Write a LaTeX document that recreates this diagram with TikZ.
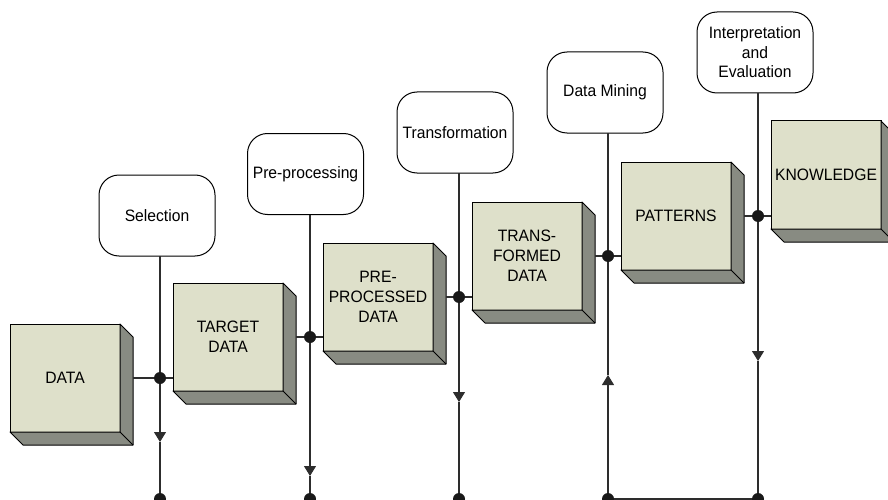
\documentclass[tikz,border=0pt]{standalone}
\usepackage{fontspec}
\setmainfont[FakeStretch=0.95]{Liberation Sans}
\usetikzlibrary{arrows.meta}
\definecolor{frontc}{RGB}{222,224,202}
\definecolor{sidec}{RGB}{136,139,130}
\definecolor{linec}{RGB}{45,45,45}
\tikzset{
  cube/.style={draw=black, line width=1pt, fill=frontc, minimum width=110pt, minimum height=108pt,
    inner sep=0pt, outer sep=0pt, align=center, anchor=north west,
    font=\fontsize{16.5}{20}\selectfont},
  stagebox/.style={draw=black, line width=1pt, fill=white, rounded corners=20pt,
    minimum width=116pt, minimum height=81pt, inner sep=0pt, outer sep=0pt, align=center,
    font=\fontsize{16.5}{19.5}\selectfont},
  conn/.style={draw=linec, line width=1.1pt},
  arr/.style={conn, -{Triangle[width=12pt,length=10pt]}},
  dotc/.style={circle, fill=black!90, minimum size=12pt, inner sep=0pt, outer sep=0pt},
}
\newcommand\mycube[4]{%
  \node[cube] (#1) at (#2,#3) {#4};
  \filldraw[fill=sidec, draw=black, line width=1pt, line join=round]
    (#1.north east) -- ([shift={(13,13)}]#1.north east) -- ([shift={(13,13)}]#1.south east)
    -- ([shift={(13,13)}]#1.south west) -- (#1.south west) -- (#1.south east) -- cycle;
  \draw[line width=1pt] (#1.south east) -- ([shift={(13,13)}]#1.south east);
}
\begin{document}
\begin{tikzpicture}[x=1pt,y=-1pt]
\path[use as bounding box] (0,0) rectangle (888,500);
\clip (0,0) rectangle (888,500);

% data boxes
\mycube{b1}{10}{324}{DATA}
\mycube{b2}{173}{283}{TARGET\\DATA}
\mycube{b3}{323}{243}{PRE-\\PROCESSED\\DATA}
\mycube{b4}{472}{202}{TRANS-\\FORMED\\DATA}
\mycube{b5}{621}{162}{PATTERNS}
\mycube{b6}{771}{121}{KNOWLEDGE}

% stage labels
\node[stagebox] (l1) at (157,215.5) {Selection};
\node[stagebox] (l2) at (305.5,174) {Pre-processing};
\node[stagebox] (l3) at (455,132.5) {Transformation};
\node[stagebox] (l4) at (605,92.5) {Data Mining};
\node[stagebox] (l5) at (755,52.5) {Interpretation\\and\\Evaluation};

% junction points
\coordinate (d1) at (160,378);
\coordinate (d2) at (310,337);
\coordinate (d3) at (459,297);
\coordinate (d4) at (608,256);
\coordinate (d5) at (758,216);

% arrow tips
\coordinate (a1) at (160,442);
\coordinate (a2) at (310,476);
\coordinate (a3) at (459,402);
\coordinate (a4) at (608,375);
\coordinate (a5) at (758,361);

% bottom ends
\coordinate (e1) at (160,499);
\coordinate (e2) at (310,499);
\coordinate (e3) at (459,499);
\coordinate (e4) at (608,499);
\coordinate (e5) at (758,499);

% vertical connectors
\foreach \i in {1,2,3,5}{
  \draw[conn] (d\i |- l\i.south) -- (d\i);
  \draw[arr] (d\i) -- (a\i);
  \draw[conn] (a\i) -- (e\i);
}
\draw[conn] (d4 |- l4.south) -- (d4);
\draw[arr] (e4) -- (a4);
\draw[conn] (a4) -- (d4);
\draw[conn] (e4) -- (e5);

% horizontal connectors
\draw[conn] ([xshift=13pt]b1.east |- d1) -- (d1) -- (b2.west |- d1);
\draw[conn] ([xshift=13pt]b2.east |- d2) -- (d2) -- (b3.west |- d2);
\draw[conn] ([xshift=13pt]b3.east |- d3) -- (d3) -- (b4.west |- d3);
\draw[conn] ([xshift=13pt]b4.east |- d4) -- (d4) -- (b5.west |- d4);
\draw[conn] ([xshift=13pt]b5.east |- d5) -- (d5) -- (b6.west |- d5);

% dots
\foreach \i in {1,...,5}{
  \node[dotc] (p\i) at (d\i) {};
  \node[dotc] (q\i) at (e\i) {};
}
\end{tikzpicture}
\end{document}
